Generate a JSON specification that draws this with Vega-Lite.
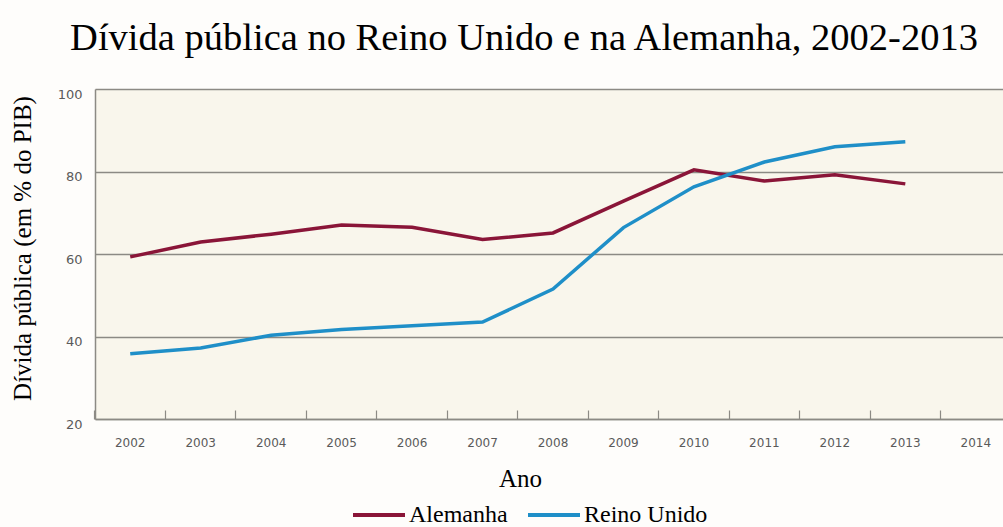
{
  "$schema": "https://vega.github.io/schema/vega-lite/v6.json",
  "autosize": {"type": "none"},
  "padding": {"left": 95, "top": 89, "right": 0, "bottom": 108},
  "width": 908,
  "height": 330,
  "background": "#fefdfb",
  "title": {
    "text": "Dívida pública no Reino Unido e na Alemanha, 2002-2013",
    "font": "Liberation Serif",
    "fontSize": 38.5,
    "fontWeight": "normal",
    "color": "#000000",
    "dx": -25,
    "offset": 30
  },
  "config": {
    "font": "Liberation Serif",
    "view": {"fill": "#f9f6ec", "stroke": null},
    "axis": {"domainColor": "#8c8a84", "gridColor": "#8c8a84", "tickColor": "#8c8a84"},
    "legend": {"labelFont": "Liberation Serif", "labelFontSize": 24}
  },
  "data": {
    "values": [
      {"ano": "2002", "pais": "Alemanha", "divida": 59.3},
      {"ano": "2003", "pais": "Alemanha", "divida": 62.9},
      {"ano": "2004", "pais": "Alemanha", "divida": 64.8},
      {"ano": "2005", "pais": "Alemanha", "divida": 67.0},
      {"ano": "2006", "pais": "Alemanha", "divida": 66.5},
      {"ano": "2007", "pais": "Alemanha", "divida": 63.5},
      {"ano": "2008", "pais": "Alemanha", "divida": 65.1},
      {"ano": "2009", "pais": "Alemanha", "divida": 72.8},
      {"ano": "2010", "pais": "Alemanha", "divida": 80.4},
      {"ano": "2011", "pais": "Alemanha", "divida": 77.7},
      {"ano": "2012", "pais": "Alemanha", "divida": 79.2},
      {"ano": "2013", "pais": "Alemanha", "divida": 77.0},
      {"ano": "2002", "pais": "Reino Unido", "divida": 35.8},
      {"ano": "2003", "pais": "Reino Unido", "divida": 37.2},
      {"ano": "2004", "pais": "Reino Unido", "divida": 40.3},
      {"ano": "2005", "pais": "Reino Unido", "divida": 41.7},
      {"ano": "2006", "pais": "Reino Unido", "divida": 42.6},
      {"ano": "2007", "pais": "Reino Unido", "divida": 43.5},
      {"ano": "2008", "pais": "Reino Unido", "divida": 51.5},
      {"ano": "2009", "pais": "Reino Unido", "divida": 66.4},
      {"ano": "2010", "pais": "Reino Unido", "divida": 76.3},
      {"ano": "2011", "pais": "Reino Unido", "divida": 82.3},
      {"ano": "2012", "pais": "Reino Unido", "divida": 86.0},
      {"ano": "2013", "pais": "Reino Unido", "divida": 87.2}
    ]
  },
  "mark": {"type": "line", "strokeWidth": 3.5, "clip": false},
  "encoding": {
    "x": {
      "field": "ano",
      "type": "ordinal",
      "scale": {
        "type": "band",
        "domain": ["2002","2003","2004","2005","2006","2007","2008","2009","2010","2011","2012","2013","2014"],
        "paddingInner": 0,
        "paddingOuter": 0,
        "range": [0, 916]
      },
      "axis": {
        "title": "Ano",
        "titleFont": "Liberation Serif",
        "titleFontSize": 25,
        "titleFontWeight": "normal",
        "titleColor": "#000000",
        "titleX": 425,
        "titleY": 67,
        "titleAlign": "center",
        "titleBaseline": "alphabetic",
        "labelAngle": 0,
        "labelFont": "DejaVu Sans",
        "labelFontSize": 12,
        "labelColor": "#5a5a5a",
        "labelPadding": 27,
        "bandPosition": 0,
        "tickSize": -9,
        "tickWidth": 1.2,
        "domainWidth": 1.5,
        "grid": false
      }
    },
    "y": {
      "field": "divida",
      "type": "quantitative",
      "scale": {"domain": [20, 100], "nice": false, "zero": false},
      "axis": {
        "title": "Dívida pública (em % do PIB)",
        "titleFont": "Liberation Serif",
        "titleFontSize": 25,
        "titleFontWeight": "normal",
        "titleColor": "#000000",
        "titleX": -65,
        "titleY": 159,
        "titleAngle": -90,
        "titleAlign": "center",
        "titleBaseline": "alphabetic",
        "values": [20, 40, 60, 80, 100],
        "labelFont": "DejaVu Sans",
        "labelFontSize": 13,
        "labelColor": "#5a5a5a",
        "labelPadding": 13,
        "labelOffset": 5,
        "ticks": false,
        "domainWidth": 1.5,
        "grid": true,
        "gridWidth": 1.5
      }
    },
    "color": {
      "field": "pais",
      "type": "nominal",
      "scale": {"domain": ["Alemanha", "Reino Unido"], "range": ["#8a1538", "#1f8fc8"]},
      "legend": {
        "title": null,
        "orient": "none",
        "legendX": 256,
        "legendY": 398,
        "direction": "horizontal",
        "symbolType": "stroke",
        "symbolSize": 2704,
        "symbolStrokeWidth": 4,
        "labelFont": "Liberation Serif",
        "labelFontSize": 24,
        "labelColor": "#000000",
        "labelOffset": 2,
        "columnPadding": 12,
        "labelLimit": 300
      }
    }
  }
}
